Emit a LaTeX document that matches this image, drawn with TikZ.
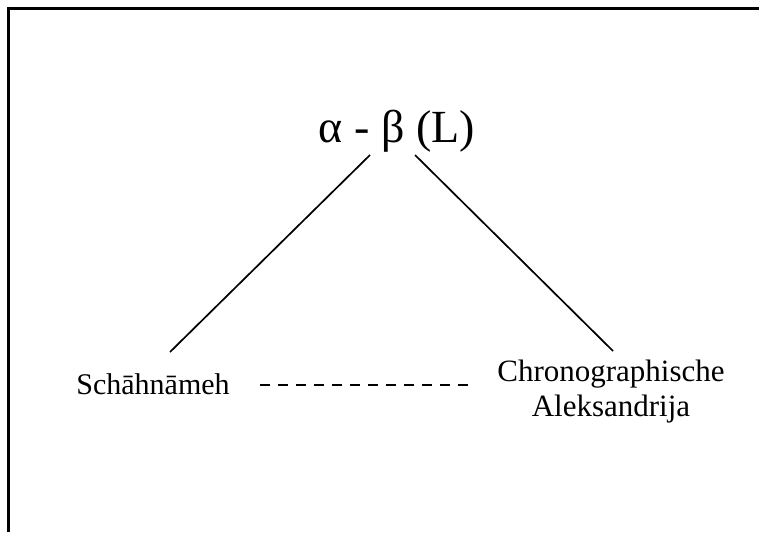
\documentclass[tikz,border=0pt]{standalone}
\usepackage{fontspec}
\setmainfont{Liberation Serif}
\begin{document}
\begin{tikzpicture}[x=1pt,y=-1pt,
  frame/.style={line width=3pt},
  edge/.style={line width=1.7pt},
  dashedge/.style={line width=1.8pt,dash pattern=on 10pt off 8pt},
  lbl/.style={inner sep=0pt,anchor=base,font=\fontsize{30}{34}\selectfont,align=center}]
\useasboundingbox (0,0) rectangle (759,532);
\draw[frame] (8.5,532) -- (8.5,8.5) -- (759,8.5);
\node[inner sep=0pt,anchor=base,font=\fontsize{46}{50}\selectfont] (top) at (397,142) {α - β (L)};
\node[lbl] (sch) at (153,394) {Schāhnāmeh};
\node[lbl,font=\fontsize{31}{35}\selectfont] (chr) at (611,416) {Chronographische\\Aleksandrija};
\coordinate (t1) at (370,155);
\coordinate (t2) at (415,155);
\coordinate (e1) at (170,352);
\coordinate (e2) at (613,351);
\coordinate (d1) at (260,385);
\coordinate (d2) at (470,385);
\draw[edge] (t1) -- (e1);
\draw[edge] (t2) -- (e2);
\draw[dashedge] (d1) -- (d2);
\end{tikzpicture}
\end{document}
